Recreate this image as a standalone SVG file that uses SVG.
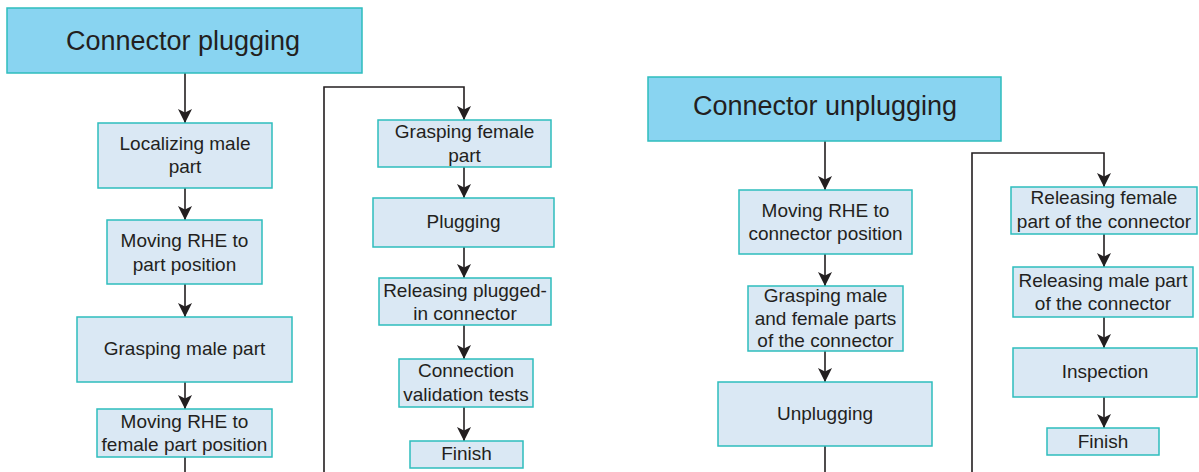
<svg xmlns="http://www.w3.org/2000/svg" width="1199" height="472" viewBox="0 0 1199 472">
  <style>
    .hdr { fill: #89D4F1; stroke: #2EBDBD; stroke-width: 1.5; }
    .box { fill: #DAE8F4; stroke: #2EBDBD; stroke-width: 1.5; }
    .t { font-family: "Liberation Sans", Arial, sans-serif; fill: #231F20; text-anchor: middle; }
    .th { font-size: 27px; }
    .tn { font-size: 19px; }
    .ln { fill: none; stroke: #231F20; stroke-width: 1.6; }
  </style>
  <defs>
    <marker id="arr" viewBox="0 -8 15 16" refX="14" refY="0" markerWidth="15" markerHeight="16" markerUnits="userSpaceOnUse" orient="auto">
      <path d="M0,-7 L14,0 L0,7 L3.5,0 Z" fill="#231F20"/>
    </marker>
  </defs>

  <rect width="1199" height="472" fill="#FFFFFF"/>

  <!-- connectors -->
  <g id="connectors" class="ln">
    <path d="M185,73 V123" marker-end="url(#arr)"/>
    <path d="M185,188 V220" marker-end="url(#arr)"/>
    <path d="M185,284 V317" marker-end="url(#arr)"/>
    <path d="M185,382 V409" marker-end="url(#arr)"/>
    <path d="M185,457 V472"/>
    <path d="M324,472 V87 H464 V120" marker-end="url(#arr)"/>
    <path d="M464,167 V198" marker-end="url(#arr)"/>
    <path d="M464,247 V278" marker-end="url(#arr)"/>
    <path d="M464,325 V359" marker-end="url(#arr)"/>
    <path d="M464,407 V441" marker-end="url(#arr)"/>
    <path d="M825,141 V190" marker-end="url(#arr)"/>
    <path d="M825,254 V286" marker-end="url(#arr)"/>
    <path d="M825,351 V382" marker-end="url(#arr)"/>
    <path d="M825,446 V472"/>
    <path d="M972,472 V153 H1104 V187" marker-end="url(#arr)"/>
    <path d="M1104,234 V267" marker-end="url(#arr)"/>
    <path d="M1104,317 V348" marker-end="url(#arr)"/>
    <path d="M1104,397 V428" marker-end="url(#arr)"/>
  </g>

  <!-- plugging sequence -->
  <g id="plugging-header">
    <rect class="hdr" x="7" y="8" width="355" height="65"/>
    <text class="t th" x="183" y="50">Connector plugging</text>
  </g>
  <g id="localizing-male">
    <rect class="box" x="98" y="123" width="174" height="65"/>
    <text class="t tn" x="185" y="150">Localizing male</text>
    <text class="t tn" x="185" y="173">part</text>
  </g>
  <g id="moving-to-part">
    <rect class="box" x="107" y="220" width="155" height="64"/>
    <text class="t tn" x="184.5" y="247">Moving RHE to</text>
    <text class="t tn" x="184.5" y="271">part position</text>
  </g>
  <g id="grasping-male">
    <rect class="box" x="77" y="317" width="215" height="65"/>
    <text class="t tn" x="184.5" y="355">Grasping male part</text>
  </g>
  <g id="moving-to-female">
    <rect class="box" x="97" y="409" width="175" height="48"/>
    <text class="t tn" x="184.5" y="428">Moving RHE to</text>
    <text class="t tn" x="184.5" y="451">female part position</text>
  </g>
  <g id="grasping-female">
    <rect class="box" x="378" y="120" width="173" height="47"/>
    <text class="t tn" x="464.5" y="138">Grasping female</text>
    <text class="t tn" x="464.5" y="162">part</text>
  </g>
  <g id="plugging">
    <rect class="box" x="373" y="198" width="181" height="49"/>
    <text class="t tn" x="463.5" y="228">Plugging</text>
  </g>
  <g id="releasing-plugged">
    <rect class="box" x="379" y="278" width="172" height="47"/>
    <text class="t tn" x="465" y="297">Releasing plugged-</text>
    <text class="t tn" x="465" y="320">in connector</text>
  </g>
  <g id="validation-tests">
    <rect class="box" x="399" y="359" width="134" height="48"/>
    <text class="t tn" x="466" y="377">Connection</text>
    <text class="t tn" x="466" y="401">validation tests</text>
  </g>
  <g id="finish-plugging">
    <rect class="box" x="410" y="441" width="113" height="27"/>
    <text class="t tn" x="466.5" y="460">Finish</text>
  </g>

  <!-- unplugging sequence -->
  <g id="unplugging-header">
    <rect class="hdr" x="648" y="77" width="353" height="64"/>
    <text class="t th" x="825" y="115">Connector unplugging</text>
  </g>
  <g id="moving-to-connector">
    <rect class="box" x="739" y="190" width="173" height="64"/>
    <text class="t tn" x="825.5" y="217">Moving RHE to</text>
    <text class="t tn" x="825.5" y="240">connector position</text>
  </g>
  <g id="grasping-both">
    <rect class="box" x="748" y="286" width="155" height="65"/>
    <text class="t tn" x="825.5" y="302">Grasping male</text>
    <text class="t tn" x="825.5" y="324.5">and female parts</text>
    <text class="t tn" x="825.5" y="347">of the connector</text>
  </g>
  <g id="unplugging">
    <rect class="box" x="718" y="382" width="214" height="64"/>
    <text class="t tn" x="825" y="420">Unplugging</text>
  </g>
  <g id="releasing-female">
    <rect class="box" x="1011" y="187" width="186" height="47"/>
    <text class="t tn" x="1104" y="204">Releasing female</text>
    <text class="t tn" x="1104" y="228">part of the connector</text>
  </g>
  <g id="releasing-male">
    <rect class="box" x="1013" y="267" width="180" height="50"/>
    <text class="t tn" x="1103" y="287">Releasing male part</text>
    <text class="t tn" x="1103" y="310">of the connector</text>
  </g>
  <g id="inspection">
    <rect class="box" x="1013" y="348" width="184" height="49"/>
    <text class="t tn" x="1105" y="378">Inspection</text>
  </g>
  <g id="finish-unplugging">
    <rect class="box" x="1047" y="428" width="112" height="27"/>
    <text class="t tn" x="1103" y="448">Finish</text>
  </g>
</svg>
